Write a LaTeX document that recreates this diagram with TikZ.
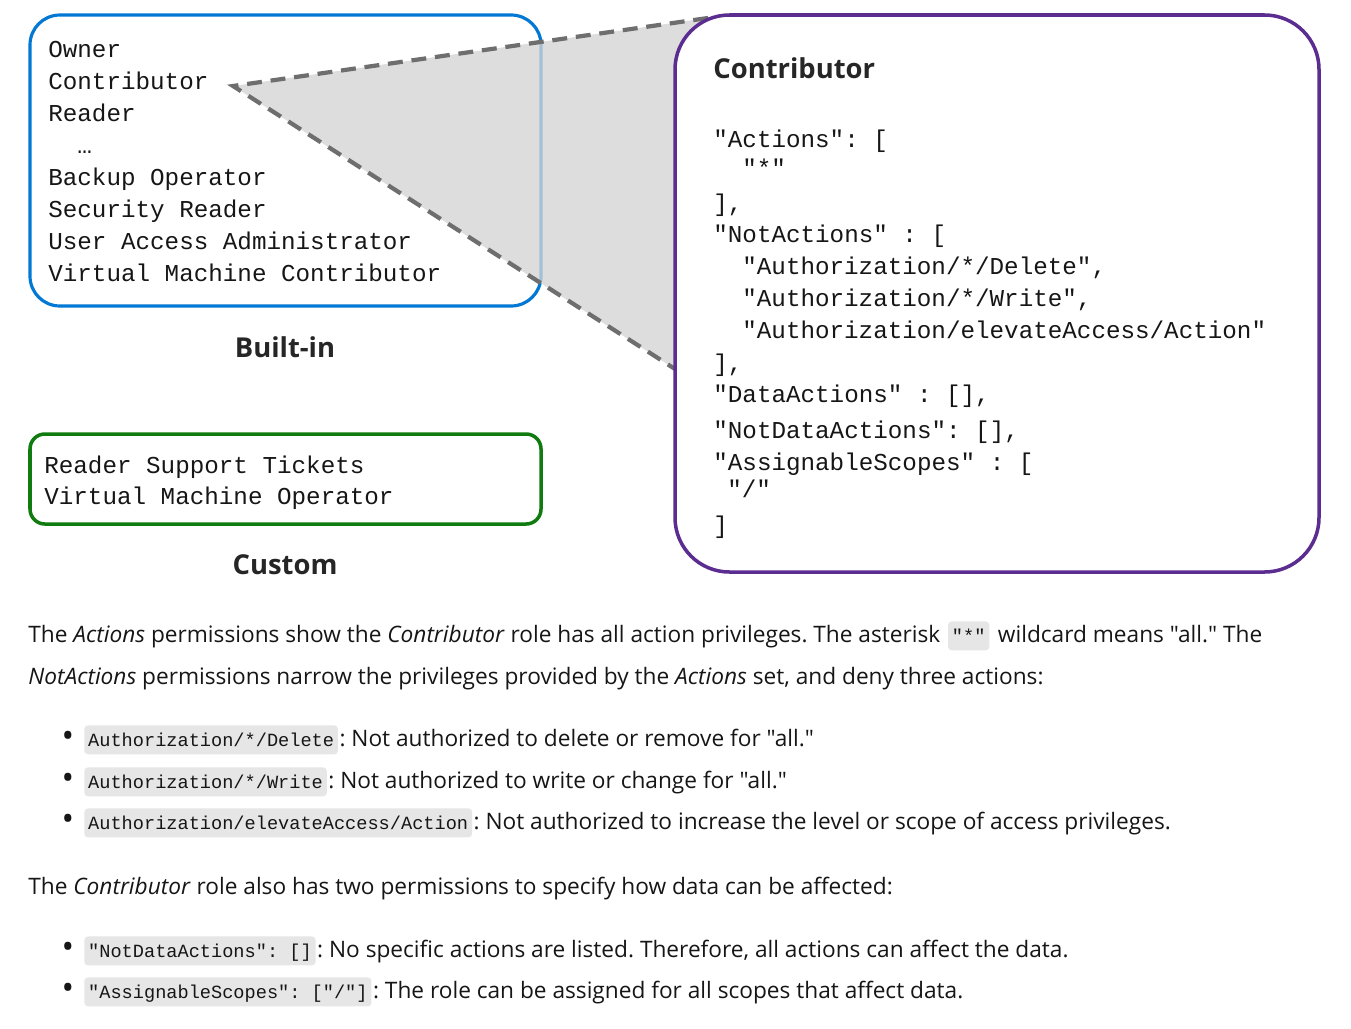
\documentclass[tikz,border=0pt]{standalone}
\usepackage{fontspec}
\setmainfont[Ligatures=TeXOff]{Open Sans}
\newfontfamily\monofam{Liberation Mono}
\usetikzlibrary{positioning}
\definecolor{azblue}{HTML}{0078D4}
\definecolor{azgreen}{HTML}{107C10}
\definecolor{azpurple}{HTML}{5C2D91}
\definecolor{azgray}{HTML}{6E6E6E}
\definecolor{azzoom}{RGB}{212,212,212}
\definecolor{azchip}{HTML}{E6E6E6}
\definecolor{aztext}{HTML}{161616}

\begin{document}
\frenchspacing
\begin{tikzpicture}[
    x=0.02cm, y=-0.02cm,
    every node/.style={text=aztext},
    rolebox/.style={
        draw=#1,
        line width=1.8pt,
        rounded corners=17pt
    },
    codeline/.style={
        anchor=base west,
        inner sep=0pt,
        font=\monofam\fontsize{13.8}{16}\selectfont
    },
    heading/.style={
        anchor=base,
        inner sep=0pt,
        text=black!85,
        font=\fontsize{15.6}{20}\selectfont\bfseries
    },
    bodyline/.style={
        anchor=base west,
        inner sep=0pt,
        font=\fontsize{12.9}{15}\selectfont
    },
    chip/.style={
        anchor=base west,
        fill=azchip,
        rounded corners=2pt,
        inner xsep=2.2pt,
        inner ysep=3.2pt,
        text height=8.5pt,
        text depth=1.5pt,
        font=\monofam\fontsize{10.6}{12}\selectfont
    },
    bullet/.style={
        anchor=base,
        inner sep=0pt,
        yshift=-1pt,
        font=\fontsize{19}{20}\selectfont
    },
    zoomedge/.style={
        draw=azgray,
        line width=2.4pt,
        dash pattern=on 8.5pt off 5pt
    }
]

% Page
\fill[white] (0,0) rectangle (1351,1028);
\useasboundingbox (0,0) rectangle (1351,1028);

% Built-in roles
\draw[rolebox=azblue] (30,15) rectangle (541,306);
\node[codeline] (own) at (48,57) {Owner};
\node[codeline] (con) at (48,89) {Contributor};
\node[codeline] (rea) at (48,121) {Reader};
\node[codeline] (dots) at (77,153) {…};
\node[codeline] (bak) at (48,185) {Backup Operator};
\node[codeline] (sec) at (48,217) {Security Reader};
\node[codeline] (uaa) at (48,249) {User Access Administrator};
\node[codeline] (vmc) at (48,281) {Virtual Machine Contributor};
\node[heading] (builtin) at (285,357) {Built-in};

% Custom roles
\draw[rolebox=azgreen, line width=2pt, rounded corners=8.5pt] (30,434) rectangle (541,524);
\node[codeline] (rst) at (44,473) {Reader Support Tickets};
\node[codeline] (vmo) at (44,504) {Virtual Machine Operator};
\node[heading] (custom) at (285,574) {Custom};

% Zoom wedge
\coordinate (apex) at (233,86);
\coordinate (topend) at (708,18);
\coordinate (botend) at (675,369);
\fill[azzoom, fill opacity=0.78] (apex) -- (topend) -- (botend) -- cycle;
\draw[zoomedge] (topend) -- (apex) -- (botend);

% Contributor definition
\draw[rolebox=azpurple, line width=2pt, rounded corners=31pt, fill=white] (675,15) rectangle (1319,572);
\node[heading, anchor=base west] (contrib) at (713,78) {Contributor};
\node[codeline] (act) at (713,147) {"Actions": [};
\node[codeline] (actall) at (742,176) {"*"};
\node[codeline] (actend) at (713,211) {],};
\node[codeline] (nact) at (713,242) {"NotActions" : [};
\node[codeline] (nactdel) at (742,274) {"Authorization/*/Delete",};
\node[codeline] (nactwr) at (742,306) {"Authorization/*/Write",};
\node[codeline] (nactel) at (742,338) {"Authorization/elevateAccess/Action"};
\node[codeline] (nactend) at (713,371) {],};
\node[codeline] (dact) at (713,402) {"DataActions" : [],};
\node[codeline] (ndact) at (713,438) {"NotDataActions": [],};
\node[codeline] (ascope) at (713,470) {"AssignableScopes" : [};
\node[codeline] (ascroot) at (727,497) {"/"};
\node[codeline] (ascend) at (713,533) {]};

% Explanation
\node[bodyline] (p1a) at (28,642) {The \textit{Actions} permissions show the \textit{Contributor} role has all action privileges. The asterisk};
\node[chip, right=4pt of p1a.base east, anchor=base west] (ast) {"*"};
\node[bodyline, right=4.5pt of ast.base east, anchor=base west] (p1b) {wildcard means "all." The};
\node[bodyline] (p1c) at (28,684) {\textit{NotActions} permissions narrow the privileges provided by the \textit{Actions} set, and deny three actions:};

\node[bullet] (b1) at (68,746) {•};
\node[chip] (c1) at (84,746) {Authorization/*/Delete};
\node[bodyline, right=0.5pt of c1.base east, anchor=base west] (t1) {: Not authorized to delete or remove for "all."};
\node[bullet] (b2) at (68,788) {•};
\node[chip] (c2) at (84,788) {Authorization/*/Write};
\node[bodyline, right=0.5pt of c2.base east, anchor=base west] (t2) {: Not authorized to write or change for "all."};
\node[bullet] (b3) at (68,829) {•};
\node[chip] (c3) at (84,829) {Authorization/elevateAccess/Action};
\node[bodyline, right=0.5pt of c3.base east, anchor=base west] (t3) {: Not authorized to increase the level or scope of access privileges.};

\node[bodyline] (p2) at (28,894) {The \textit{Contributor} role also has two permissions to specify how data can be affected:};

\node[bullet] (b4) at (68,957) {•};
\node[chip] (c4) at (84,957) {"NotDataActions": []};
\node[bodyline, right=0.5pt of c4.base east, anchor=base west] (t4) {: No specific actions are listed. Therefore, all actions can affect the data.};
\node[bullet] (b5) at (68,998) {•};
\node[chip] (c5) at (84,998) {"AssignableScopes": ["/"]};
\node[bodyline, right=0.5pt of c5.base east, anchor=base west] (t5) {: The role can be assigned for all scopes that affect data.};

\end{tikzpicture}
\end{document}
